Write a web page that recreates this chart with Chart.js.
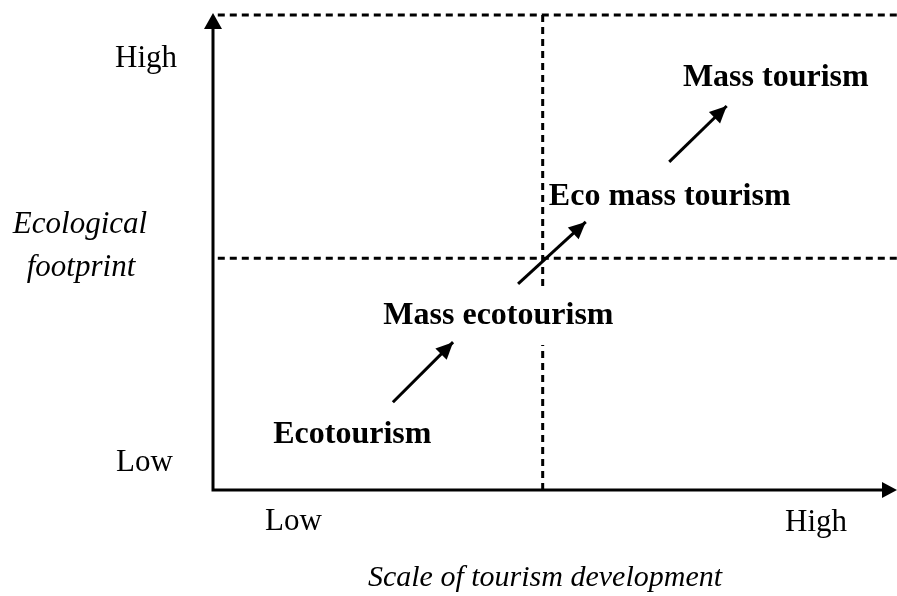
<!DOCTYPE html>
<html>
<head>
<meta charset="utf-8">
<script src="https://cdn.jsdelivr.net/npm/chart.js@4.4.1/dist/chart.umd.min.js"></script>
<style>
  html, body { margin: 0; padding: 0; background: #fff; }
  #wrap { width: 897px; height: 596px; }
</style>
</head>
<body>
<div id="wrap"><canvas id="chart" width="897" height="596"></canvas></div>
<script>
// Stages of tourism development (label anchor = left / baseline, in 0-100 scale units)
const stageLabels = ["Ecotourism", "Mass ecotourism", "Eco mass tourism", "Mass tourism"];
const stageX = [8.8, 24.9, 49.1, 68.7];
const stageY = [9.9, 34.8, 59.7, 84.7];

// Arrows between stages
const arrowFromX = [26.3, 44.6, 66.7];
const arrowFromY = [18.4, 43.2, 68.8];
const arrowToX = [35.1, 54.5, 75.1];
const arrowToY = [31.0, 56.2, 80.5];

// Quadrant split and upper bound
const splitX = 48.2;
const splitY = 48.6;
const topY = 99.6;

// Axis labels
const xTickLabels = ["Low", "High"];
const yTickLabels = ["Low", "High"];
const xTitle = "Scale of tourism development";
const yTitle = ["Ecological", "footprint"];

const dashStyle = {
  showLine: true,
  pointRadius: 0,
  borderColor: "#000",
  borderWidth: 3,
  borderDash: [7, 5],
  clip: false,
  order: 1, // drawn before the arrows
};

const datasets = [
  Object.assign({ data: [{ x: splitX, y: 0 }, { x: splitX, y: topY }] }, dashStyle),
  Object.assign({ data: [{ x: 0.7, y: splitY }, { x: 100, y: splitY }] }, dashStyle),
  Object.assign({ data: [{ x: 0.7, y: topY }, { x: 100, y: topY }] }, dashStyle),
];

arrowFromX.forEach((x, i) => {
  datasets.push({
    showLine: true,
    pointRadius: 0,
    borderColor: "#000",
    borderWidth: 3,
    clip: false,
    order: 0,
    arrow: true,
    data: [
      { x: x, y: arrowFromY[i] },
      { x: arrowToX[i], y: arrowToY[i] },
    ],
  });
});

const BOLD = "bold 32px 'Liberation Serif', 'Times New Roman', serif";
const REGULAR = "31px 'Liberation Serif', 'Times New Roman', serif";

function drawHead(ctx, x1, y1, x2, y2, len, half) {
  const a = Math.atan2(y2 - y1, x2 - x1);
  ctx.beginPath();
  ctx.moveTo(x2, y2);
  ctx.lineTo(x2 - len * Math.cos(a) + half * Math.sin(a), y2 - len * Math.sin(a) - half * Math.cos(a));
  ctx.lineTo(x2 - len * Math.cos(a) - half * Math.sin(a), y2 - len * Math.sin(a) + half * Math.cos(a));
  ctx.closePath();
  ctx.fill();
}

let labelsPainted = false;

const diagramPlugin = {
  id: "diagram",
  beforeDraw() {
    labelsPainted = false;
  },
  // stage labels sit on white boxes that hide the dashed lines behind them
  beforeDatasetDraw(chart, args) {
    const ds = chart.data.datasets[args.index];
    if (!ds.arrow || labelsPainted) return;
    labelsPainted = true;
    const ctx = chart.ctx;
    const xs = chart.scales.x;
    const ys = chart.scales.y;
    ctx.save();
    ctx.font = BOLD;
    ctx.textAlign = "left";
    ctx.textBaseline = "alphabetic";
    stageLabels.forEach((t, i) => {
      const px = xs.getPixelForValue(stageX[i]);
      const py = ys.getPixelForValue(stageY[i]);
      const w = ctx.measureText(t).width;
      ctx.fillStyle = "#fff";
      ctx.fillRect(px - 3, py - 36, w + 6, 57);
      ctx.fillStyle = "#000";
      ctx.fillText(t, px, py);
    });
    ctx.restore();
  },
  afterDatasetsDraw(chart) {
    const ctx = chart.ctx;
    const area = chart.chartArea;
    const xs = chart.scales.x;
    const ys = chart.scales.y;
    ctx.save();
    ctx.fillStyle = "#000";
    ctx.strokeStyle = "#000";

    // axes
    ctx.lineWidth = 3;
    ctx.beginPath();
    ctx.moveTo(area.left, area.top + 12);
    ctx.lineTo(area.left, area.bottom);
    ctx.lineTo(area.right - 12, area.bottom);
    ctx.stroke();
    drawHead(ctx, area.left, area.bottom, area.left, area.top, 16, 9);
    drawHead(ctx, area.left, area.bottom, area.right, area.bottom, 15, 8);

    // arrowheads on stage arrows
    chart.data.datasets.forEach((ds) => {
      if (!ds.arrow) return;
      const p0 = ds.data[0], p1 = ds.data[1];
      drawHead(ctx, xs.getPixelForValue(p0.x), ys.getPixelForValue(p0.y),
        xs.getPixelForValue(p1.x), ys.getPixelForValue(p1.y), 17, 8);
    });

    // tick labels
    ctx.textAlign = "left";
    ctx.textBaseline = "alphabetic";
    ctx.font = REGULAR;
    ctx.fillText(yTickLabels[1], area.left - 98, area.top + 54);
    ctx.fillText(yTickLabels[0], area.left - 97, area.bottom - 19);
    ctx.fillText(xTickLabels[0], area.left + 52, area.bottom + 40);
    ctx.fillText(xTickLabels[1], area.right - 112, area.bottom + 41);

    // axis titles
    ctx.textAlign = "center";
    ctx.font = "italic 31px 'Liberation Serif', 'Times New Roman', serif";
    ctx.fillText(yTitle[0], 80, 233);
    ctx.fillText(yTitle[1], 81, 276);
    ctx.font = "italic 30px 'Liberation Serif', 'Times New Roman', serif";
    ctx.fillText(xTitle, 545, 586);
    ctx.restore();
  },
};

new Chart(document.getElementById("chart"), {
  type: "scatter",
  data: { datasets: datasets },
  options: {
    responsive: false,
    animation: false,
    layout: { padding: { left: 213, right: 0, top: 13, bottom: 106 } },
    scales: {
      x: { type: "linear", min: 0, max: 100, display: false },
      y: { type: "linear", min: 0, max: 100, display: false },
    },
    plugins: {
      legend: { display: false },
      tooltip: { enabled: false },
    },
  },
  plugins: [diagramPlugin],
});
</script>
</body>
</html>
